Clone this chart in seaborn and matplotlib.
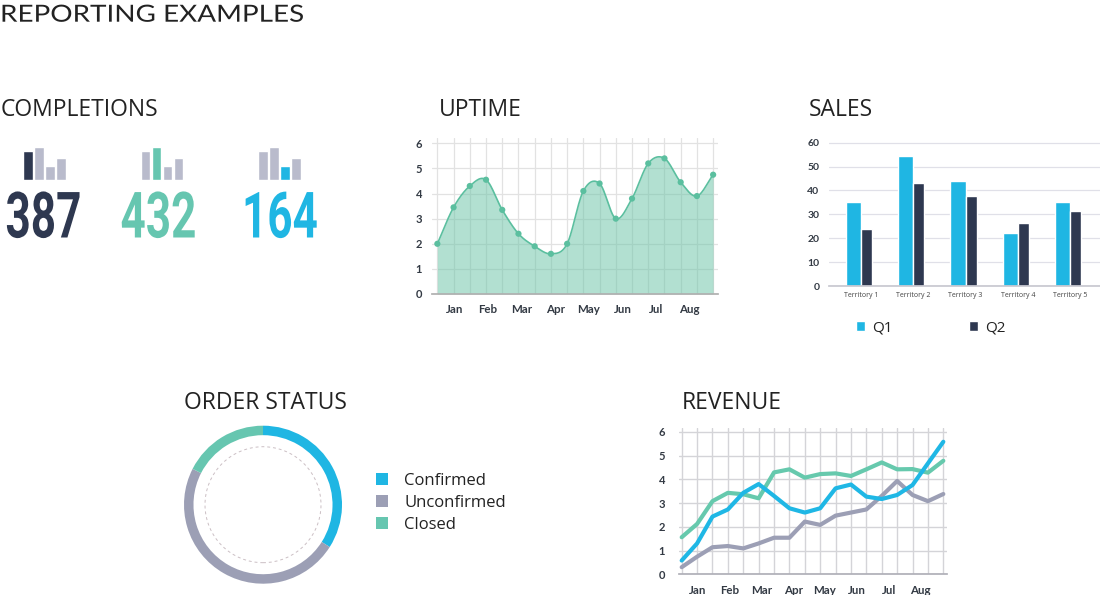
import numpy as np
import pandas as pd
import matplotlib
matplotlib.use('Agg')
import matplotlib.pyplot as plt
import seaborn as sns
from matplotlib import font_manager as fm
from matplotlib.patches import Circle
from matplotlib.patheffects import AbstractPathEffect
from matplotlib.transforms import Affine2D

W, H = 1100, 595

# ---------------- data ----------------
completion_totals = [387, 432, 164]
completion_bars = [29, 33, 14, 22]
completion_highlight = [0, 1, 2]

months = ['Jan', 'Feb', 'Mar', 'Apr', 'May', 'Jun', 'Jul', 'Aug']
uptime = [2.0, 3.45, 4.3, 4.55, 3.35, 2.4, 1.9, 1.6, 2.0, 4.1, 4.4, 3.0,
          3.8, 5.2, 5.4, 4.45, 3.9, 4.75]

territories = ['Territory 1', 'Territory 2', 'Territory 3', 'Territory 4', 'Territory 5']
sales_q1 = [35, 54.5, 44, 22, 35]
sales_q2 = [24, 43.3, 37.5, 26.5, 31.5]

order_labels = ['Confirmed', 'Unconfirmed', 'Closed']
order_values = [34, 48.5, 17.5]

revenue_blue = [0.58, 1.3, 2.43, 2.73, 3.43, 3.8, 3.3, 2.78, 2.6, 2.78, 3.62, 3.78,
                3.27, 3.17, 3.34, 3.76, 4.67, 5.58]
revenue_green = [1.56, 2.12, 3.08, 3.43, 3.37, 3.2, 4.29, 4.42, 4.07, 4.22, 4.25, 4.14,
                 4.42, 4.71, 4.42, 4.43, 4.28, 4.78]
revenue_gray = [0.3, 0.74, 1.14, 1.19, 1.09, 1.3, 1.54, 1.54, 2.22, 2.08, 2.47, 2.6,
                2.73, 3.3, 3.93, 3.34, 3.08, 3.38]

# ---------------- style ----------------
NAVY = '#2e3850'
TEAL = '#66c6b0'
BLUE = '#1fb6e3'
GRAYBAR = '#b9bbcc'
LINEGRAY = '#9c9fb5'
TXT = '#222222'
TICK = '#333a44'

sns.set_theme(style='white')
plt.rcParams['font.family'] = ['Open Sans', 'DejaVu Sans']
avail = {f.name for f in fm.fontManager.ttflist}
NUMFONT = 'Roboto' if 'Roboto' in avail else 'DejaVu Sans'
TITLEFONT = 'Lato' if 'Lato' in avail else 'DejaVu Sans'

fig = plt.figure(figsize=(W / 100, H / 100), dpi=100)


class HScale(AbstractPathEffect):
    """Draw text glyphs scaled horizontally about a fixed display x."""
    def __init__(self, sx, cx):
        super().__init__()
        self.sx = sx
        self.cx = cx

    def draw_path(self, renderer, gc, tpath, affine, rgbFace=None):
        t = affine + Affine2D().translate(-self.cx, 0).scale(self.sx, 1).translate(self.cx, 0)
        renderer.draw_path(gc, tpath, t, rgbFace)


def rect(x0, y0, x1, y1):
    return [x0 / W, 1 - y1 / H, (x1 - x0) / W, (y1 - y0) / H]


def ftext(x, y, s, **kw):
    kw.setdefault('va', 'baseline')
    return fig.text(x / W, 1 - y / H, s, **kw)


def smooth(y, n=24):
    y = np.asarray(y, float)
    p = np.concatenate([[2 * y[0] - y[1]], y, [2 * y[-1] - y[-2]]])
    t = np.linspace(0, 1, n, endpoint=False)
    xs, ys = [], []
    for i in range(len(y) - 1):
        p0, p1, p2, p3 = p[i], p[i + 1], p[i + 2], p[i + 3]
        ys.append(0.5 * (2 * p1 + (-p0 + p2) * t + (2 * p0 - 5 * p1 + 4 * p2 - p3) * t ** 2
                         + (-p0 + 3 * p1 - 3 * p2 + p3) * t ** 3))
        xs.append(i + t)
    xs.append([len(y) - 1])
    ys.append([y[-1]])
    return np.concatenate(xs), np.concatenate(ys)


def tick_fonts(ax, size_y, size_x):
    for lab in ax.get_yticklabels():
        lab.set_fontfamily(TITLEFONT); lab.set_fontweight('bold')
        lab.set_fontsize(size_y); lab.set_color(TICK)
    for lab in ax.get_xticklabels():
        lab.set_fontfamily(TITLEFONT); lab.set_fontweight('bold')
        lab.set_fontsize(size_x); lab.set_color(TICK)


# ---------------- titles ----------------
ftext(0, 21.7, 'REPORTING EXAMPLES', fontsize=17, family=TITLEFONT, color=TXT,
      path_effects=[HScale(1.18, 0)])
ftext(1, 116.5, 'COMPLETIONS', fontsize=16.5, color=TXT)
ftext(439, 116.5, 'UPTIME', fontsize=16.5, color=TXT)
ftext(809, 116.5, 'SALES', fontsize=16.5, color=TXT)
ftext(184, 409, 'ORDER STATUS', fontsize=16.5, color=TXT)
ftext(682, 409, 'REVENUE', fontsize=16.5, color=TXT)

# ---------------- completions ----------------
group_left = [22.7, 140, 257.7]
num_left = [5.5, 120.5, 242]
hi_colors = [NAVY, TEAL, BLUE]
keys = ['a', 'b', 'c', 'd']
for g in range(3):
    ax = fig.add_axes(rect(group_left[g], 146.7, group_left[g] + 44, 180))
    cols = [GRAYBAR] * 4
    cols[completion_highlight[g]] = hi_colors[g]
    df = pd.DataFrame({'k': keys, 'v': completion_bars})
    sns.barplot(data=df, x='k', y='v', hue='k', palette=cols, legend=False,
                width=0.86, saturation=1, ax=ax)
    ax.set_xlim(-0.5, 3.5)
    ax.set_ylim(0, 33)
    ax.axis('off')
    ftext(num_left[g], 237.5, str(completion_totals[g]), ha='left',
          fontsize=46, family=NUMFONT, weight='bold', color=hi_colors[g],
          path_effects=[HScale(0.69, num_left[g])])

# ---------------- uptime ----------------
ax = fig.add_axes(rect(432, 138.3, 718, 294))
xi = np.arange(len(uptime))
sx, sy = smooth(uptime)
ax.fill_between(sx, 0, sy, color='#6cc4a8', alpha=0.52, lw=0)
ax.plot(sx, sy, color='#5bbf9f', lw=1.2)
sns.scatterplot(x=xi, y=uptime, color='#5bbf9f', s=20, edgecolor='none', ax=ax, zorder=3)
ax.set_xlim(-0.33, 17.3)
ax.set_ylim(0, 6.2)
ax.set_yticks(range(7))
ax.set_xticks(np.linspace(1.05, 15.56, 8))
ax.set_xticklabels(months)
ax.set_xticks(range(18), minor=True)
ax.grid(False)
ax.grid(axis='y', which='major', color='#e2e2e2', lw=0.9)
ax.grid(axis='x', which='minor', color='#e2e2e2', lw=0.9)
ax.set_axisbelow(True)
ax.tick_params(which='both', length=0)
ax.tick_params(axis='y', pad=7)
ax.tick_params(axis='x', pad=7)
for s in ['top', 'right', 'left']:
    ax.spines[s].set_visible(False)
ax.spines['bottom'].set_color('#b0b0b0')
tick_fonts(ax, 8, 8.3)

# ---------------- sales ----------------
ax = fig.add_axes(rect(829, 140.3, 1100, 286))
df = pd.DataFrame({'territory': territories * 2,
                   'value': sales_q1 + sales_q2,
                   'quarter': ['Q1'] * 5 + ['Q2'] * 5})
sns.barplot(data=df, x='territory', y='value', hue='quarter', palette=[BLUE, NAVY],
            saturation=1, width=0.5, ax=ax)
for i, bar in enumerate(ax.containers[0]):
    bar.set_x(i - 0.293); bar.set_width(0.293)
for i, bar in enumerate(ax.containers[1]):
    bar.set_x(i); bar.set_width(0.21)
handles, labels = ax.get_legend_handles_labels()
ax.get_legend().remove()
ax.set_xlim(-0.61, 4.57)
ax.set_ylim(0, 61)
ax.set_yticks(range(0, 61, 10))
ax.set_xlabel('')
ax.set_ylabel('')
ax.grid(False)
ax.grid(axis='y', color='#e0e0e8', lw=0.9)
ax.set_axisbelow(True)
ax.tick_params(which='both', length=0)
ax.tick_params(axis='y', pad=7)
ax.tick_params(axis='x', pad=4)
for s in ['top', 'right', 'left']:
    ax.spines[s].set_visible(False)
ax.spines['bottom'].set_color('#c8c8d0')
tick_fonts(ax, 7.5, 5)
for lab in ax.get_xticklabels():
    lab.set_fontweight('normal'); lab.set_fontfamily('Open Sans'); lab.set_color('#444444')
fig.legend(handles, labels, ncol=2, frameon=False, loc='center left',
           bbox_to_anchor=(856 / W, 1 - 328 / H), bbox_transform=fig.transFigure,
           fontsize=11, handlelength=0.6, handleheight=0.6, handletextpad=0.45,
           columnspacing=5.0, borderpad=0, borderaxespad=0, labelcolor=TXT)

# ---------------- order status ----------------
cx, cy, r = 263, 504.7, 79
ax = fig.add_axes(rect(cx - 90, cy - 90, cx + 90, cy + 90))
wedges, _ = ax.pie(order_values, colors=[BLUE, LINEGRAY, TEAL], startangle=90,
                   counterclock=False, radius=1,
                   wedgeprops=dict(width=0.12, edgecolor='none'))
ax.add_patch(Circle((0, 0), 0.734, fill=False, ls=(0, (3, 3)), lw=0.7, ec='#cbbfc4'))
ax.set_xlim(-90 / r, 90 / r)
ax.set_ylim(-90 / r, 90 / r)
ax.set_aspect('equal')
ax.axis('off')
fig.legend(wedges, order_labels, frameon=False, loc='center left',
           bbox_to_anchor=(376 / W, 1 - 503 / H), bbox_transform=fig.transFigure,
           fontsize=12, handlelength=0.7, handleheight=0.7, handletextpad=1.0,
           labelspacing=0.35, borderpad=0, borderaxespad=0, labelcolor=TXT)

# ---------------- revenue ----------------
ax = fig.add_axes(rect(679, 428, 946.7, 574.3))
rx = np.arange(len(revenue_blue))
rev = pd.DataFrame({'x': np.concatenate([rx, rx, rx]),
                    'y': revenue_green + revenue_gray + revenue_blue,
                    'series': ['green'] * 18 + ['gray'] * 18 + ['blue'] * 18})
sns.lineplot(data=rev, x='x', y='y', hue='series',
             palette={'green': '#66c9ad', 'gray': LINEGRAY, 'blue': '#1fb7e5'},
             lw=3, legend=False, ax=ax, solid_capstyle='round', solid_joinstyle='round')
ax.set_xlim(-0.175, 17.22)
ax.set_ylim(0, 6.16)
ax.set_yticks(range(7))
ax.set_xticks(np.linspace(1.04, 15.52, 8))
ax.set_xticklabels(months)
ax.set_xticks(range(18), minor=True)
ax.set_xlabel('')
ax.set_ylabel('')
ax.grid(False)
ax.grid(axis='y', which='major', color='#d4d4d8', lw=1)
ax.grid(axis='x', which='minor', color='#d4d4d8', lw=1)
ax.set_axisbelow(True)
ax.tick_params(which='both', length=0)
ax.tick_params(axis='y', pad=10)
ax.tick_params(axis='x', pad=8)
for s in ['top', 'right', 'left']:
    ax.spines[s].set_visible(False)
ax.spines['bottom'].set_color('#b0b0b8')
tick_fonts(ax, 8, 8.3)

fig.savefig('out.png', dpi=100)
